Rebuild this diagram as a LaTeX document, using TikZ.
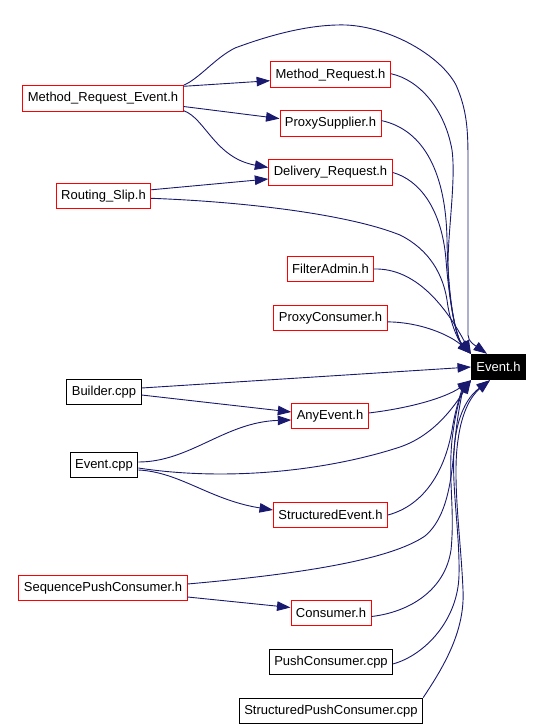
\documentclass[tikz,border=0pt]{standalone}
\usepackage{fontspec}
\setmainfont{Liberation Sans}
\usetikzlibrary{arrows.meta, positioning, calc}
\definecolor{edgeblue}{HTML}{191970}

\begin{document}
\begin{tikzpicture}[
    x=1pt, y=-1pt,
    node distance=22.5pt,
    hdr/.style={
        rectangle, draw=red, line width=0.9pt,
        minimum height=25.5pt, inner xsep=5pt,
        fill=white, font=\fontsize{13}{15}\selectfont},
    src/.style={hdr, draw=black},
    root/.style={hdr, draw=black, fill=black, text=white},
    dep/.style={-{Triangle[length=13.5pt, width=9.5pt]}, line width=0.9pt, color=edgeblue}]

\useasboundingbox (0,0) rectangle (542,727);

\node[hdr]                  (mre)    at (103,98.5)   {Method\_Request\_Event.h};
\node[hdr]                  (mreq)   at (330.5,74.7) {Method\_Request.h};
\node[hdr, below=of mreq]   (psup)   {ProxySupplier.h};
\node[hdr, below=of psup]   (dreq)   {Delivery\_Request.h};
\node[hdr]                  (rslip)  at (103.5,195.8) {Routing\_Slip.h};
\node[hdr]                  (fadm)   at (330.5,269)  {FilterAdmin.h};
\node[hdr, below=of fadm]   (pcons)  {ProxyConsumer.h};
\node[root]                 (ev)     at (498.5,367)  {Event.h};
\node[src]                  (bld)    at (104,392)    {Builder.cpp};
\node[hdr]                  (aev)    at (330,416)    {AnyEvent.h};
\node[src]                  (evcpp)  at (104,465)    {Event.cpp};
\node[hdr]                  (sev)    at (330.5,515)  {StructuredEvent.h};
\node[hdr]                  (spc)    at (103,588)    {SequencePushConsumer.h};
\node[hdr]                  (cons)   at (331,613)    {Consumer.h};
\node[src, below=of cons]   (pushc)  {PushConsumer.cpp};
\node[src, below=of pushc]  (spushc) {StructuredPushConsumer.cpp};

% Method_Request_Event.h
\draw[dep] ($(mre.north east)+(0,1)$) -- ($(mreq.west)+(0,6)$);
\draw[dep] ($(mre.east)+(0,8)$) -- ($(psup.west)+(0,-5)$);
\draw[dep] ($(mre.south east)+(0,-1)$) .. controls (205,118) and (215,158) .. ($(dreq.west)+(0,-5)$);
\draw[dep] (mre.north east) .. controls (200,78) and (215,58) .. (235,48)
    .. controls (270,35) and (310,24) .. (346,25)
    .. controls (390,27) and (440,55) .. (456,85)
    .. controls (467,110) and (468,130) .. (468,160)
    -- (468,335) .. controls (468,342) and (476,346) .. ($(ev.north west)+(16,0)$);

% Routing_Slip.h
\draw[dep] ($(rslip.east)+(0,-6)$) -- ($(dreq.west)+(0,6.5)$);
\draw[dep] ($(rslip.east)+(0,2.5)$) .. controls (250,202) and (350,215) .. (400,235)
    .. controls (430,250) and (443,275) .. (447,300)
    .. controls (450,325) and (460,343) .. (ev.north west);

% upper headers into Event.h
\draw[dep] ($(mreq.east)+(0,-1)$) .. controls (420,80) and (445,110) .. (452,150)
    .. controls (456,180) and (448,230) .. (448,265)
    .. controls (449,310) and (458,340) .. (ev.north west);
\draw[dep] ($(psup.east)+(0,-3)$) .. controls (425,130) and (446,175) .. (447,240)
    .. controls (448,300) and (456,338) .. (ev.north west);
\draw[dep] (dreq.east) .. controls (420,180) and (442,210) .. (446,260)
    .. controls (449,300) and (456,338) .. (ev.north west);
\draw[dep] (fadm.east) .. controls (415,268) and (445,305) .. (ev.north west);
\draw[dep] ($(pcons.east)+(0,4)$) .. controls (420,322) and (450,335) .. (ev.north west);

% Builder.cpp
\draw[dep] ($(bld.east)+(0,-4)$) -- (ev.west);
\draw[dep] ($(bld.east)+(0,3)$) -- ($(aev.west)+(0,-4)$);
\draw[dep] ($(aev.east)+(0,-3)$) .. controls (410,408) and (445,398) .. (ev.south west);

% Event.cpp
\draw[dep] ($(evcpp.east)+(0,-3)$) .. controls (190,462) and (225,422) .. ($(aev.west)+(0,4)$);
\draw[dep] ($(evcpp.east)+(0,3)$) .. controls (230,482) and (330,470) .. (400,447)
    .. controls (435,435) and (455,405) .. (ev.south west);
\draw[dep] ($(evcpp.east)+(0,5)$) .. controls (180,472) and (210,500) .. ($(sev.west)+(0,-5)$);
\draw[dep] (sev.east) .. controls (425,505) and (445,470) .. (452,430)
    .. controls (456,405) and (463,388) .. (ev.south west);

% SequencePushConsumer.h
\draw[dep] ($(spc.east)+(0,-4)$) .. controls (300,574) and (390,560) .. (425,536)
    .. controls (450,515) and (452,470) .. (455,440)
    .. controls (458,410) and (463,390) .. (ev.south west);
\draw[dep] ($(spc.east)+(0,9)$) -- ($(cons.west)+(0,-5.5)$);

% lower sources into Event.h
\draw[dep] ($(cons.east)+(0,3.5)$) .. controls (410,612) and (445,590) .. (451,550)
    .. controls (455,510) and (448,480) .. (452,440)
    .. controls (456,405) and (463,390) .. (ev.south west);
\draw[dep] ($(pushc.east)+(0,2)$) .. controls (425,655) and (458,620) .. (459,575)
    .. controls (460,530) and (450,480) .. (455,440)
    .. controls (459,410) and (470,395) .. ($(ev.south west)+(19,0)$);
\draw[dep] (spushc.north east) .. controls (445,665) and (465,630) .. (463,590)
    .. controls (461,540) and (452,480) .. (458,440)
    .. controls (462,410) and (472,395) .. ($(ev.south west)+(19,0)$);

\end{tikzpicture}
\end{document}
